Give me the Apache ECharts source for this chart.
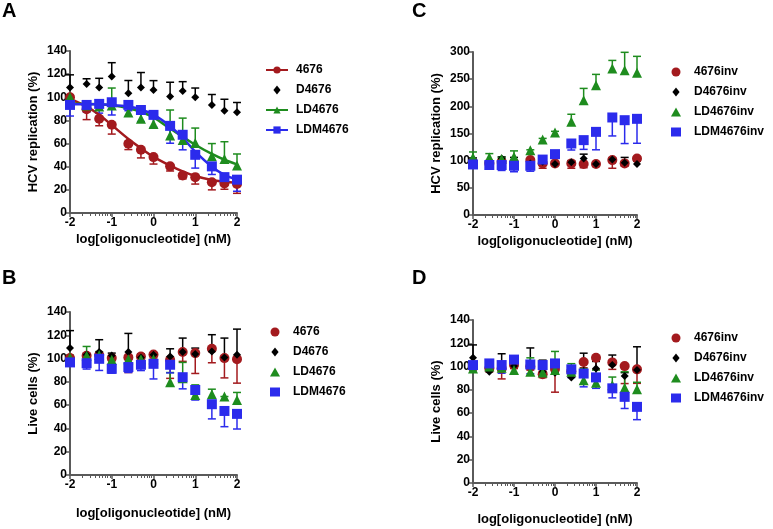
<!DOCTYPE html>
<html>
<head>
<meta charset="utf-8">
<script src="https://cdn.jsdelivr.net/npm/echarts@6/dist/echarts.min.js"></script>
<style>
  html, body { margin: 0; padding: 0; background: #fff; }
  #chart { width: 773px; height: 529px; }
</style>
</head>
<body>
<div id="chart"></div>
<script>
// concentrations in nM, plotted as log10
var concNM = [0.01, 0.025, 0.05, 0.1, 0.25, 0.5, 1, 2.5, 5, 10, 25, 50, 100];
var xLog = concNM.map(Math.log10);
var xTicks = [-2, -1, 0, 1, 2];

// A: HCV replication
var a4676 = [100, 89.7, 81.4, 76.2, 59.8, 54.6, 48.3, 40.3, 32.5, 31, 26.5, 25.5, 25];
var a4676Err = [2, 9, 6, 8, 5, 7, 6, 4, 3, 6, 6.5, 5, 8];
var aD4676 = [108.4, 111.5, 108.4, 117.9, 103.5, 108.4, 106.4, 100.6, 105.5, 100, 93.4, 88.3, 87.1];
var aD4676Err = [11, 4.5, 8, 12, 11, 13, 8, 12.4, 8, 8, 9, 10, 8.4];
var aLD4676 = [100, 93, 92, 93, 86.8, 81.4, 77, 67, 63, 60.4, 49, 46.6, 41];
var aLD4676Err = [2, 2, 3, 15, 4, 5, 6, 22, 19, 13, 11, 15, 10];
var aLDM4676 = [93.4, 93.4, 94.3, 95.7, 93.4, 89, 84.8, 75.3, 67.6, 50.3, 40.3, 31, 28.8];
var aLDM4676Err = [9.6, 6, 8, 11, 5, 10, 10.8, 15, 13, 11.5, 7, 5.7, 10];
// fitted curves
var aFit4676 = [98.5, 92, 85, 76, 64, 56, 48.5, 41, 36, 32, 28.5, 27, 26];
var aFitLD4676 = [94.5, 94.3, 94, 93, 90.5, 87.5, 82.5, 73, 66, 59, 51, 46, 42];
var aFitLDM4676 = [94, 94, 94, 93.5, 92, 89.5, 85, 75, 65, 53, 40, 33, 29];

// B: live cells
var b4676 = [100.4, 102.4, 103, 100.4, 101, 101.8, 103.5, 99, 105.6, 104.7, 108.4, 100.4, 99.5];
var b4676Err = [2, 3, 2, 2, 13, 3, 3, 16, 8, 17.5, 12, 17, 20.6];
var bD4676 = [109, 103.3, 105.6, 102.7, 105.6, 101, 103.3, 101.8, 105.6, 104, 106, 101, 103.3];
var bD4676Err = [15, 1, 10.6, 2, 16, 3, 1, 6.6, 12, 5, 14.5, 16.6, 22];
var bLD4676 = [101, 102.4, 103, 99, 99.5, 99.5, 99.5, 79.7, 83.2, 68.8, 69.4, 67.4, 64.5];
var bLD4676Err = [2, 8, 3, 1.4, 2, 1, 3, 8.3, 13.5, 8.6, 4.3, 0, 6.4];
var bLDM4676 = [96.7, 96, 99.8, 91.2, 92.7, 94.7, 95.5, 94.7, 84, 73, 60.8, 55, 52.5];
var bLDM4676Err = [3, 5, 10, 3.7, 4.6, 5, 13, 7, 10, 8.6, 12.6, 13.5, 13];

// C: HCV replication, inverted controls
var c4676inv = [96, 95, 98, 96, 101, 95, 95, 95, 94, 94, 101, 95, 104];
var c4676invErr = [3, 2, 10, 4, 4, 9, 3, 9, 7, 3, 15, 5, 5];
var cD4676inv = [101, 98, 104, 100, 95, 98, 93.7, 97, 104, 93.7, 102, 96, 94];
var cD4676invErr = [4, 2, 3, 6, 2, 3, 2, 3, 8, 2, 3, 10, 5];
var cLD4676inv = [106, 106, 103, 107, 119, 139, 152, 171.4, 211, 238.8, 269.5, 266.4, 262];
var cLD4676invErr = [10, 7, 3, 11, 1, 2, 2, 14, 22, 20, 15, 33, 30];
var cLDM4676inv = [93, 92, 92, 90.6, 90.6, 102, 112, 131.6, 137.8, 153, 179.5, 174.5, 177];
var cLDM4676invErr = [2, 2, 10, 11, 10, 3, 3, 12, 17, 33, 34, 43, 45];

// D: live cells, inverted controls
var d4676inv = [100, 98.4, 98.4, 101.3, 100, 93.5, 98, 96, 104, 107.6, 103.6, 100.4, 97.6];
var d4676invErr = [3, 3, 9, 3, 3, 3, 20, 5, 5, 10, 6, 15, 12];
var dD4676inv = [107.6, 95.5, 101, 100.4, 101, 95.5, 94.7, 90.7, 95.5, 98.4, 101.3, 91.8, 97];
var dD4676invErr = [11, 2, 10, 4, 15, 10, 3, 3, 16, 6, 8.6, 3, 20];
var dLD4676inv = [98.4, 100, 99, 97, 95.5, 95, 97, 95.5, 88.3, 86, 84, 81.8, 80.5];
var dLD4676invErr = [2, 5.6, 3, 3, 12, 3, 16, 7, 10, 11, 7, 13.7, 6];
var dLDM4676inv = [101.3, 102.7, 101.3, 106, 101.8, 101.3, 102.7, 97.6, 94, 90.7, 81.3, 74, 65.4];
var dLDM4676invErr = [3, 4.3, 7, 4, 8, 4, 5, 7, 11.4, 9.4, 8.2, 10, 11];

var RED = '#a31a1e', BLACK = '#000000', GREEN = '#1e8c1e', BLUE = '#2b2bec';
var AXIS = '#5a5a5a';
var FONT = '"Liberation Sans", Arial, sans-serif';
var DIAMOND = 'path://M0,-1L0.8,0L0,1L-0.8,0Z';

// log minor ticks between decades
var minorTicks = [];
for (var d = -2; d < 2; d++) {
    for (var k = 2; k <= 9; k++) minorTicks.push(d + Math.log10(k));
}

var myChart = echarts.init(document.getElementById('chart'), null, {renderer: 'canvas'});

var grids = [
    {left: 70, top: 51, width: 167, height: 162},
    {left: 70, top: 312, width: 167, height: 163},
    {left: 473, top: 52, width: 164, height: 163},
    {left: 473, top: 320, width: 164, height: 163}
];

function xAxisMain (g, gap) {
    return {
        type: 'value', gridIndex: g, position: 'bottom', min: -2, max: 2, interval: 1,
        name: 'log[oligonucleotide] (nM)', nameLocation: 'middle', nameGap: gap,
        nameTextStyle: {fontFamily: FONT, fontWeight: 'bold', fontSize: 13, color: '#000'},
        axisLine: {show: true, onZero: false, lineStyle: {color: AXIS, width: 2}},
        axisTick: {show: true, length: 4, lineStyle: {color: AXIS, width: 1.5}},
        axisLabel: {fontFamily: FONT, fontWeight: 'bold', fontSize: 12, color: '#000', margin: 4,
            customValues: xTicks},
        splitLine: {show: false}
    };
}

function xAxisMinor (g) {
    return {
        type: 'value', gridIndex: g, position: 'bottom', min: -2, max: 2,
        axisLine: {show: false, onZero: false},
        axisTick: {show: true, length: 3, customValues: minorTicks, lineStyle: {color: AXIS, width: 1}},
        axisLabel: {show: false},
        splitLine: {show: false}
    };
}

function yAxis (g, name, max, step, gap) {
    return {
        type: 'value', gridIndex: g, position: 'left', min: 0, max: max, interval: step,
        name: name, nameLocation: 'middle', nameGap: gap,
        nameTextStyle: {fontFamily: FONT, fontWeight: 'bold', fontSize: 13, color: '#000'},
        axisLine: {show: true, onZero: false, lineStyle: {color: AXIS, width: 2}},
        axisTick: {show: true, length: 4, lineStyle: {color: AXIS, width: 1.5}},
        axisLabel: {fontFamily: FONT, fontWeight: 'bold', fontSize: 12, color: '#000', margin: 3},
        splitLine: {show: false}
    };
}

function points (name, g, ys, symbol, size, color) {
    return {
        type: 'scatter', name: name, xAxisIndex: g, yAxisIndex: g,
        data: xLog.map(function (x, i) { return [x, ys[i]]; }),
        symbol: symbol, symbolSize: size,
        itemStyle: {color: color, opacity: 1},
        emphasis: {disabled: true}, z: 3
    };
}

// one-sided error bars, dir = 1 up, -1 down
function errBars (name, g, ys, errs, dir, color) {
    return {
        type: 'custom', name: name + ' SD', xAxisIndex: g, yAxisIndex: g, clip: false, silent: true,
        data: xLog.map(function (x, i) { return [x, ys[i], ys[i] + dir * errs[i]]; }),
        renderItem: function (params, api) {
            var p0 = api.coord([api.value(0), api.value(1)]);
            var p1 = api.coord([api.value(0), api.value(2)]);
            var st = {stroke: color, lineWidth: 1.5};
            return {
                type: 'group', children: [
                    {type: 'line', shape: {x1: p0[0], y1: p0[1], x2: p1[0], y2: p1[1]}, style: st},
                    {type: 'line', shape: {x1: p1[0] - 4, y1: p1[1], x2: p1[0] + 4, y2: p1[1]}, style: st}
                ]
            };
        },
        z: 2
    };
}

function fitLine (name, g, ys, symbol, color) {
    return {
        type: 'line', name: name, xAxisIndex: g, yAxisIndex: g,
        data: xLog.map(function (x, i) { return [x, ys[i]]; }),
        smooth: 0.35, showSymbol: false, symbol: symbol, symbolSize: 10,
        lineStyle: {color: color, width: 2.5},
        itemStyle: {color: color},
        emphasis: {disabled: true}, z: 2
    };
}

function group (name, g, ys, errs, dir, symbol, size, color) {
    return [points(name, g, ys, symbol, size, color), errBars(name, g, ys, errs, dir, color)];
}

function legend (items, left, top, w, textPad) {
    return {
        orient: 'vertical', left: left, top: top, data: items,
        itemWidth: w, itemHeight: 9, itemGap: 8, padding: 0,
        symbolKeepAspect: true, selectedMode: false,
        textStyle: {fontFamily: FONT, fontWeight: 'bold', fontSize: 12, color: '#000', padding: [0, 0, 0, textPad]}
    };
}

function markItems (names) {
    var icons = ['circle', DIAMOND, 'triangle', 'rect'];
    return names.map(function (n, i) { return {name: n, icon: icons[i]}; });
}

var series = [].concat(
    // A
    [fitLine('4676', 0, aFit4676, 'circle', RED),
     fitLine('LD4676', 0, aFitLD4676, 'triangle', GREEN),
     fitLine('LDM4676', 0, aFitLDM4676, 'rect', BLUE)],
    group('4676', 0, a4676, a4676Err, -1, 'circle', 10, RED),
    group('D4676', 0, aD4676, aD4676Err, 1, 'diamond', 8, BLACK),
    group('LD4676', 0, aLD4676, aLD4676Err, 1, 'triangle', 10, GREEN),
    group('LDM4676', 0, aLDM4676, aLDM4676Err, -1, 'rect', 10, BLUE),
    // B
    group('4676', 1, b4676, b4676Err, -1, 'circle', 10, RED),
    group('D4676', 1, bD4676, bD4676Err, 1, 'diamond', 8, BLACK),
    group('LD4676', 1, bLD4676, bLD4676Err, 1, 'triangle', 10, GREEN),
    group('LDM4676', 1, bLDM4676, bLDM4676Err, -1, 'rect', 10, BLUE),
    // C
    group('4676inv', 2, c4676inv, c4676invErr, -1, 'circle', 10, RED),
    group('D4676inv', 2, cD4676inv, cD4676invErr, 1, 'diamond', 8, BLACK),
    group('LD4676inv', 2, cLD4676inv, cLD4676invErr, 1, 'triangle', 10, GREEN),
    group('LDM4676inv', 2, cLDM4676inv, cLDM4676invErr, -1, 'rect', 10, BLUE),
    // D
    group('4676inv', 3, d4676inv, d4676invErr, -1, 'circle', 10, RED),
    group('D4676inv', 3, dD4676inv, dD4676invErr, 1, 'diamond', 8, BLACK),
    group('LD4676inv', 3, dLD4676inv, dLD4676invErr, 1, 'triangle', 10, GREEN),
    group('LDM4676inv', 3, dLDM4676inv, dLDM4676invErr, -1, 'rect', 10, BLUE)
);

var panelText = {fontFamily: FONT, fontWeight: 'bold', fontSize: 20, color: '#000'};

myChart.setOption({
    animation: false,
    title: [
        {text: 'A', left: 2, top: 1, padding: 0, textStyle: panelText},
        {text: 'B', left: 2, top: 268, padding: 0, textStyle: panelText},
        {text: 'C', left: 412, top: 1, padding: 0, textStyle: panelText},
        {text: 'D', left: 412, top: 268, padding: 0, textStyle: panelText}
    ],
    grid: grids,
    xAxis: [xAxisMain(0, 20), xAxisMain(1, 32), xAxisMain(2, 20), xAxisMain(3, 30),
        xAxisMinor(0), xAxisMinor(1), xAxisMinor(2), xAxisMinor(3)],
    yAxis: [
        yAxis(0, 'HCV replication (%)', 140, 20, 30),
        yAxis(1, 'Live cells (%)', 140, 20, 30),
        yAxis(2, 'HCV replication (%)', 300, 50, 30),
        yAxis(3, 'Live cells (%)', 140, 20, 30)
    ],
    legend: [
        legend(['4676', {name: 'D4676', icon: DIAMOND}, 'LD4676', 'LDM4676'], 265, 64, 22, 3),
        legend(markItems(['4676', 'D4676', 'LD4676', 'LDM4676']), 270, 326, 10, 8),
        legend(markItems(['4676inv', 'D4676inv', 'LD4676inv', 'LDM4676inv']), 671, 66, 10, 8),
        legend(markItems(['4676inv', 'D4676inv', 'LD4676inv', 'LDM4676inv']), 671, 332, 10, 8)
    ],
    series: series
});
</script>
</body>
</html>
